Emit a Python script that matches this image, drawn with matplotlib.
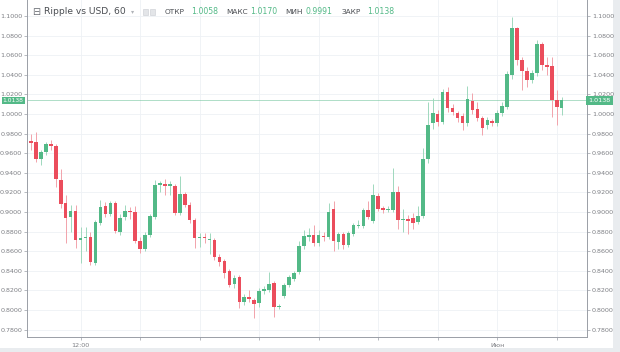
import matplotlib
matplotlib.use("Agg")
import matplotlib.pyplot as plt
import matplotlib.transforms as mtransforms
from matplotlib.patches import Rectangle
import numpy as np

# ---------------- data ----------------
opens = [
    0.9724, 0.9717, 0.954, 0.961, 0.969, 0.967, 0.933, 0.909, 0.895, 0.901,
    0.871, 0.873, 0.875, 0.848, 0.889, 0.906, 0.898, 0.909, 0.880, 0.895,
    0.901, 0.900, 0.870, 0.862, 0.877, 0.895, 0.928, 0.929, 0.927, 0.927,
    0.899, 0.918, 0.907, 0.892, 0.873, 0.875, 0.871, 0.871, 0.854, 0.850,
    0.840, 0.827, 0.834, 0.808, 0.813, 0.810, 0.807, 0.819, 0.820, 0.828,
    0.803, 0.814, 0.826, 0.832, 0.839, 0.865, 0.875, 0.877, 0.868, 0.876,
    0.874, 0.903, 0.869, 0.878, 0.866, 0.878, 0.886, 0.886, 0.902, 0.891,
    0.916, 0.904, 0.902, 0.902, 0.920, 0.892, 0.893, 0.894, 0.890, 0.896,
    0.954, 0.991, 0.9997, 0.992, 1.0228, 1.0058, 1.0007, 0.998, 0.9905, 1.0136,
    1.0048, 0.9956, 0.9888, 0.9929, 0.9905, 1.0007, 1.0074, 1.040, 1.0874, 1.0551,
    1.0439, 1.0347, 1.0415, 1.0711, 1.050, 1.049, 1.0143, 1.0058]
closes = [
    0.9704, 0.954, 0.961, 0.969, 0.967, 0.934, 0.908, 0.894, 0.901, 0.871,
    0.873, 0.875, 0.849, 0.890, 0.905, 0.898, 0.909, 0.881, 0.894, 0.901,
    0.900, 0.870, 0.862, 0.877, 0.896, 0.928, 0.929, 0.927, 0.928, 0.899,
    0.918, 0.907, 0.892, 0.873, 0.875, 0.873, 0.872, 0.854, 0.849, 0.838,
    0.826, 0.833, 0.808, 0.813, 0.811, 0.806, 0.819, 0.821, 0.827, 0.803,
    0.804, 0.826, 0.834, 0.838, 0.865, 0.875, 0.877, 0.868, 0.877, 0.874,
    0.900, 0.870, 0.878, 0.866, 0.879, 0.887, 0.887, 0.902, 0.895, 0.917,
    0.903, 0.902, 0.903, 0.920, 0.892, 0.893, 0.891, 0.889, 0.896, 0.954,
    0.989, 1.0007, 0.9921, 1.0228, 1.0058, 1.0023, 0.9956, 0.9905, 1.015, 1.0041,
    0.9956, 0.9854, 0.9939, 0.9911, 1.0013, 1.0082, 1.0405, 1.0874, 1.0551, 1.0439,
    1.0347, 1.0421, 1.0711, 1.050, 1.0483, 1.0143, 1.0068, 1.0138]
highs = [
    0.980, 0.982, 0.963, 0.971, 0.973, 0.969, 0.944, 0.917, 0.907, 0.907,
    0.885, 0.885, 0.880, 0.892, 0.912, 0.910, 0.911, 0.911, 0.898, 0.907,
    0.905, 0.906, 0.874, 0.880, 0.898, 0.933, 0.932, 0.934, 0.932, 0.929,
    0.937, 0.920, 0.910, 0.894, 0.879, 0.879, 0.879, 0.873, 0.857, 0.852,
    0.842, 0.836, 0.836, 0.816, 0.820, 0.812, 0.822, 0.825, 0.839, 0.830,
    0.806, 0.828, 0.836, 0.840, 0.870, 0.882, 0.884, 0.887, 0.882, 0.880,
    0.909, 0.911, 0.880, 0.880, 0.881, 0.889, 0.892, 0.904, 0.911, 0.929,
    0.919, 0.906, 0.906, 0.945, 0.927, 0.903, 0.897, 0.899, 0.906, 0.965,
    1.0125, 1.016, 1.004, 1.026, 1.028, 1.010, 1.003, 1.001, 1.0286, 1.021,
    1.012, 0.998, 0.997, 0.995, 1.004, 1.012, 1.044, 1.099, 1.089, 1.058,
    1.048, 1.045, 1.076, 1.073, 1.058, 1.058, 1.024, 1.017]
lows = [
    0.963, 0.951, 0.948, 0.958, 0.963, 0.926, 0.904, 0.868, 0.880, 0.863,
    0.848, 0.860, 0.846, 0.846, 0.887, 0.895, 0.896, 0.879, 0.877, 0.892,
    0.893, 0.868, 0.858, 0.860, 0.875, 0.893, 0.920, 0.917, 0.917, 0.897,
    0.897, 0.905, 0.889, 0.863, 0.864, 0.868, 0.857, 0.851, 0.845, 0.833,
    0.823, 0.822, 0.802, 0.805, 0.808, 0.792, 0.803, 0.816, 0.818, 0.793,
    0.801, 0.812, 0.823, 0.830, 0.837, 0.862, 0.870, 0.865, 0.865, 0.870,
    0.872, 0.860, 0.862, 0.862, 0.864, 0.876, 0.884, 0.884, 0.893, 0.889,
    0.901, 0.899, 0.900, 0.900, 0.883, 0.880, 0.878, 0.883, 0.888, 0.894,
    0.950, 0.985, 0.988, 0.990, 1.002, 0.999, 0.992, 0.984, 0.988, 1.000,
    0.993, 0.9786, 0.985, 0.988, 0.988, 0.998, 1.005, 1.036, 1.050, 1.0245,
    1.028, 1.032, 1.039, 1.045, 1.040, 0.997, 0.9888, 0.9991]

x_tick_idx = [10, 22, 34, 46, 58, 70, 82, 94, 106]
x_tick_labels = ["12:00", "", "", "", "", "", "", "Июн", ""]
y_ticks = [0.78, 0.80, 0.82, 0.84, 0.86, 0.88, 0.90, 0.92, 0.94, 0.96,
           0.98, 1.00, 1.02, 1.04, 1.06, 1.08, 1.10]

title = "Ripple vs USD, 60"
ohlc_names = ["ОТКР", "МАКС", "МИН", "ЗАКР"]
ohlc_values = ["1.0058", "1.0170", "0.9991", "1.0138"]
last_price = 1.0138

# ---------------- style ----------------
GREEN = "#53b987"
RED = "#eb4d5c"
GREEN_W = "#9fd8bd"
RED_W = "#f2a3ab"
GRID = "#eef1f5"
AXC = "#9a9ea6"
TXT = "#7d7f84"

W, H = 620, 352
fig = plt.figure(figsize=(W / 100, H / 100), dpi=100)
fig.patch.set_facecolor("#e9ecef")
fig.patches.append(Rectangle((0, 4 / H), 613 / W, 1 - 4 / H, transform=fig.transFigure,
                             facecolor="white", edgecolor="none", zorder=-10))

L, R, B, T = 27, 587, 337, 0
ax = fig.add_axes([L / W, (H - B) / H, (R - L) / W, (B - T) / H])
ax.set_facecolor("white")

n = len(opens)
idx = np.arange(n)
o = np.array(opens); c = np.array(closes); h = np.array(highs); lo = np.array(lows)
up = c >= o
body_bot = np.minimum(o, c)
body_h = np.maximum(np.abs(c - o), 0.0012)

ax.vlines(idx[up], lo[up], h[up], color=GREEN_W, lw=0.7, zorder=2)
ax.vlines(idx[~up], lo[~up], h[~up], color=RED_W, lw=0.7, zorder=2)
ax.bar(idx[up], body_h[up], bottom=body_bot[up], width=0.72, color=GREEN, lw=0, zorder=3)
ax.bar(idx[~up], body_h[~up], bottom=body_bot[~up], width=0.72, color=RED, lw=0, zorder=3)

ax.set_xlim(-0.8, 112.1)
ax.set_ylim(1 - (B - 114) / 980, 1 + 114 / 980)

ax.set_yticks(y_ticks)
ax.set_yticklabels([f"{v:.4f}" for v in y_ticks])
ax.set_xticks(x_tick_idx)
ax.set_xticklabels(x_tick_labels)
ax.tick_params(axis="y", which="both", left=True, right=True, labelleft=True, labelright=True,
               length=2.5, width=0.5, color=AXC, labelsize=4.6, labelcolor=TXT, pad=1)
ax.tick_params(axis="x", length=2.5, width=0.5, color=AXC, labelsize=4.6, labelcolor=TXT, pad=2)
for lab in ax.get_yticklabels() + ax.get_xticklabels():
    lab.set_family("DejaVu Sans")

ax.grid(True, color=GRID, lw=0.6, zorder=0)
ax.set_axisbelow(True)
for s in ["left", "right", "bottom"]:
    ax.spines[s].set_color(AXC)
    ax.spines[s].set_linewidth(0.7)
ax.spines["top"].set_visible(False)

# current price line and labels
ax.axhline(last_price, color=GREEN, lw=0.6, alpha=0.55, zorder=1)
tr = mtransforms.blended_transform_factory(ax.transAxes, ax.transData)
ax.text(1.003, last_price, f"{last_price:.4f}", transform=tr, ha="left", va="center",
        fontsize=4.6, color="white", clip_on=False, zorder=6,
        bbox=dict(boxstyle="square,pad=0.35", fc=GREEN, ec="none"))
ax.text(-0.006, last_price, f"{last_price:.4f}", transform=tr, ha="right", va="center",
        fontsize=4.3, color="white", clip_on=False, zorder=6,
        bbox=dict(boxstyle="square,pad=0.2", fc=GREEN, ec="none"))

# header
def fx(px):
    return px / W

yh = 1 - 12 / H
fig.text(fx(32), yh, "⊟", fontsize=7, color="#6b6e74", va="center", ha="left")
fig.text(fx(44), yh, title, fontsize=6.6, color="#4a4d52", va="center", ha="left")
fig.text(fx(131), yh, "▾", fontsize=4.5, color="#b0b3b8", va="center", ha="left")
for px in (143, 150):
    fig.patches.append(Rectangle((fx(px), yh - 3 / H), 5 / W, 6 / H, transform=fig.transFigure,
                                 facecolor="#e3e5e8", edgecolor="#c9ccd1", lw=0.4))
name_x = [165, 226, 285, 342]
val_x = [191, 250, 305, 367]
for nm, vv, nx, vx in zip(ohlc_names, ohlc_values, name_x, val_x):
    fig.text(fx(nx), yh, nm, fontsize=5.3, color="#4a4d52", va="center", ha="left")
    fig.text(fx(vx), yh, vv, fontsize=5.6, color=GREEN, va="center", ha="left")

fig.savefig("out.png", dpi=100, facecolor=fig.get_facecolor())
